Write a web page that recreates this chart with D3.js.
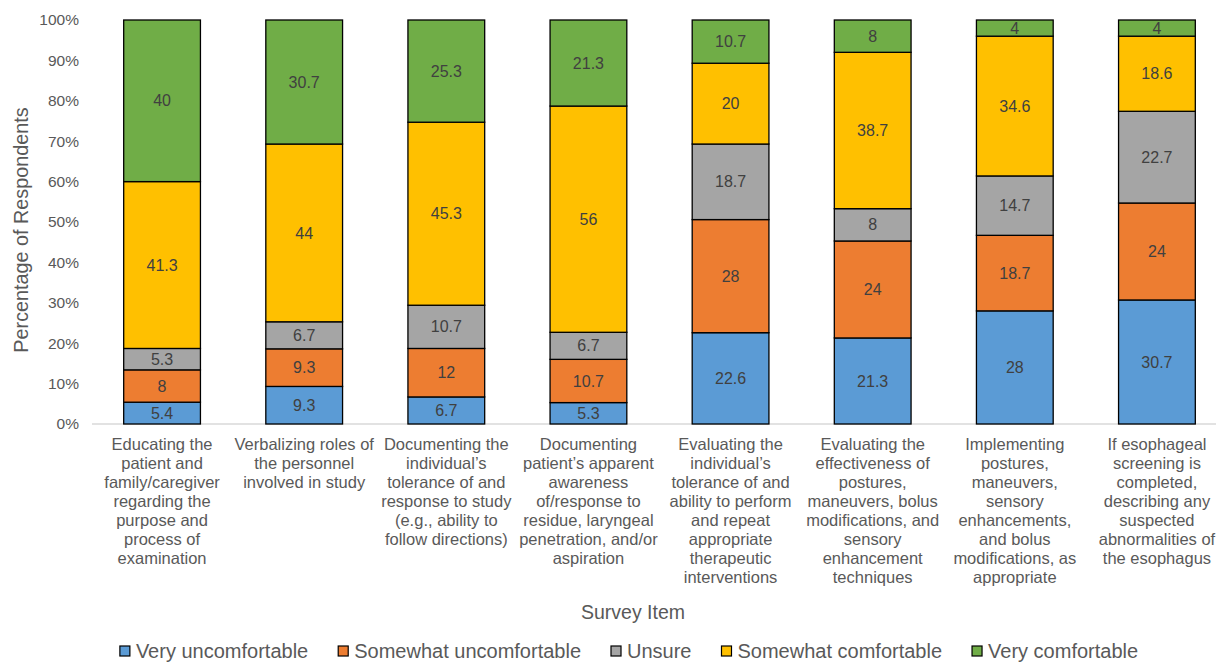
<!DOCTYPE html>
<html>
<head>
<meta charset="utf-8">
<script src="https://cdn.jsdelivr.net/npm/d3@7"></script>
<style>
  body { margin: 0; background: #fff; }
  text { font-family: "Liberation Sans", Arial, sans-serif; }
</style>
</head>
<body>
<div id="chart"></div>
<script>
// categories (one array of lines per survey item)
const items = [
    ['Educating the', 'patient and', 'family/caregiver', 'regarding the', 'purpose and', 'process of', 'examination'],
    ['Verbalizing roles of', 'the personnel', 'involved in study'],
    ['Documenting the', 'individual\u2019s', 'tolerance of and', 'response to study', '(e.g., ability to', 'follow directions)'],
    ['Documenting', 'patient\u2019s apparent', 'awareness', 'of/response to', 'residue, laryngeal', 'penetration, and/or', 'aspiration'],
    ['Evaluating the', 'individual\u2019s', 'tolerance of and', 'ability to perform', 'and repeat', 'appropriate', 'therapeutic', 'interventions'],
    ['Evaluating the', 'effectiveness of', 'postures,', 'maneuvers, bolus', 'modifications, and', 'sensory', 'enhancement', 'techniques'],
    ['Implementing', 'postures,', 'maneuvers,', 'sensory', 'enhancements,', 'and bolus', 'modifications, as', 'appropriate'],
    ['If esophageal', 'screening is', 'completed,', 'describing any', 'suspected', 'abnormalities of', 'the esophagus']
];

// series
const seriesNames = ['Very uncomfortable', 'Somewhat uncomfortable', 'Unsure', 'Somewhat comfortable', 'Very comfortable'];
const veryUncomfortable = [5.4, 9.3, 6.7, 5.3, 22.6, 21.3, 28, 30.7];
const somewhatUncomfortable = [8, 9.3, 12, 10.7, 28, 24, 18.7, 24];
const unsure = [5.3, 6.7, 10.7, 6.7, 18.7, 8, 14.7, 22.7];
const somewhatComfortable = [41.3, 44, 45.3, 56, 20, 38.7, 34.6, 18.6];
const veryComfortable = [40, 30.7, 25.3, 21.3, 10.7, 8, 4, 4];
const seriesColors = ['#5B9BD5', '#ED7D31', '#A5A5A5', '#FFC000', '#70AD47'];

const yTicks = [0, 10, 20, 30, 40, 50, 60, 70, 80, 90, 100];

// build table for d3.stack
const table = items.map((lines, i) => ({
    idx: i,
    [seriesNames[0]]: veryUncomfortable[i],
    [seriesNames[1]]: somewhatUncomfortable[i],
    [seriesNames[2]]: unsure[i],
    [seriesNames[3]]: somewhatComfortable[i],
    [seriesNames[4]]: veryComfortable[i]
}));

const width = 1216;
const height = 663;
const margin = {top: 20, right: -12, bottom: 239, left: 91};

const svg = d3.select('#chart')
    .append('svg')
        .attr('width', width)
        .attr('height', height);

const x = d3.scaleBand()
    .domain(d3.range(items.length))
    .range([margin.left, width - margin.right])
    .paddingInner(0.46)
    .paddingOuter(0.23);

const y = d3.scaleLinear()
    .domain([0, 100])
    .range([height - margin.bottom, margin.top]);

const color = d3.scaleOrdinal()
    .domain(seriesNames)
    .range(seriesColors);

// y axis tick labels
const yAxis = svg.append('g')
    .attr('transform', `translate(${margin.left - 9}, 0)`)
    .call(d3.axisLeft(y).tickValues(yTicks).tickFormat(d => d + '%').tickSize(0));
yAxis.select('.domain').remove();
yAxis.selectAll('text')
    .attr('font-family', '"Liberation Sans", Arial, sans-serif')
    .attr('font-size', 15.5)
    .attr('fill', '#595959');

svg.append('text')
    .attr('transform', `translate(28, 230) rotate(-90)`)
    .attr('text-anchor', 'middle')
    .attr('font-size', 19.8)
    .attr('fill', '#595959')
    .text('Percentage of Respondents');

// baseline
svg.append('line')
    .attr('x1', margin.left + 1)
    .attr('x2', width)
    .attr('y1', y(0))
    .attr('y2', y(0))
    .attr('stroke', '#d9d9d9')
    .attr('stroke-width', 1.5);

// stacked bars
const stacked = d3.stack().keys(seriesNames)(table);

const layers = svg.append('g')
    .selectAll('g')
    .data(stacked)
    .join('g')
        .attr('fill', d => color(d.key));

layers.selectAll('rect')
    .data(d => d)
    .join('rect')
        .attr('x', d => x(d.data.idx))
        .attr('y', d => y(d[1]))
        .attr('width', x.bandwidth())
        .attr('height', d => y(d[0]) - y(d[1]))
        .attr('stroke', '#000')
        .attr('stroke-width', 1.3);

// data labels
layers.selectAll('text')
    .data(d => d.map(v => ({v, key: d.key})))
    .join('text')
        .attr('x', d => x(d.v.data.idx) + x.bandwidth() / 2)
        .attr('y', d => y((d.v[0] + d.v[1]) / 2))
        .attr('dy', '0.35em')
        .attr('text-anchor', 'middle')
        .attr('font-family', 'Carlito, Calibri, Lato, sans-serif')
        .attr('font-size', 16)
        .attr('fill', '#404040')
        .text(d => d.v.data[d.key]);

// category labels
const catLabels = svg.append('g')
    .selectAll('text')
    .data(items)
    .join('text')
        .attr('text-anchor', 'middle')
        .attr('font-size', 16.5)
        .attr('fill', '#595959')
        .attr('transform', (d, i) => `translate(${x(i) + x.bandwidth() / 2}, ${y(0) + 26})`);
catLabels.selectAll('tspan')
    .data(d => d)
    .join('tspan')
        .attr('x', 0)
        .attr('y', (d, i) => i * 19)
        .text(d => d);

// x axis title
svg.append('text')
    .attr('x', 633)
    .attr('y', 619)
    .attr('text-anchor', 'middle')
    .attr('font-size', 19.5)
    .attr('fill', '#595959')
    .text('Survey Item');

// legend
const legend = svg.append('g')
    .attr('transform', 'translate(0, 651)');
let lx = 0;
const legendItems = seriesNames.map(name => {
    const g = legend.append('g');
    g.append('rect')
        .attr('x', 0)
        .attr('y', -5)
        .attr('width', 10)
        .attr('height', 10)
        .attr('fill', color(name))
        .attr('stroke', '#000')
        .attr('stroke-width', 1.2);
    const t = g.append('text')
        .attr('x', 16)
        .attr('y', 0)
        .attr('dy', '0.35em')
        .attr('font-size', 20)
        .attr('fill', '#595959')
        .text(name);
    const w = 16 + t.node().getComputedTextLength();
    g.attr('transform', `translate(${lx}, 0)`);
    lx += w + 30;
    return g;
});
const legendWidth = lx - 30;
legend.attr('transform', `translate(${629 - legendWidth / 2}, 651)`);
</script>
</body>
</html>
